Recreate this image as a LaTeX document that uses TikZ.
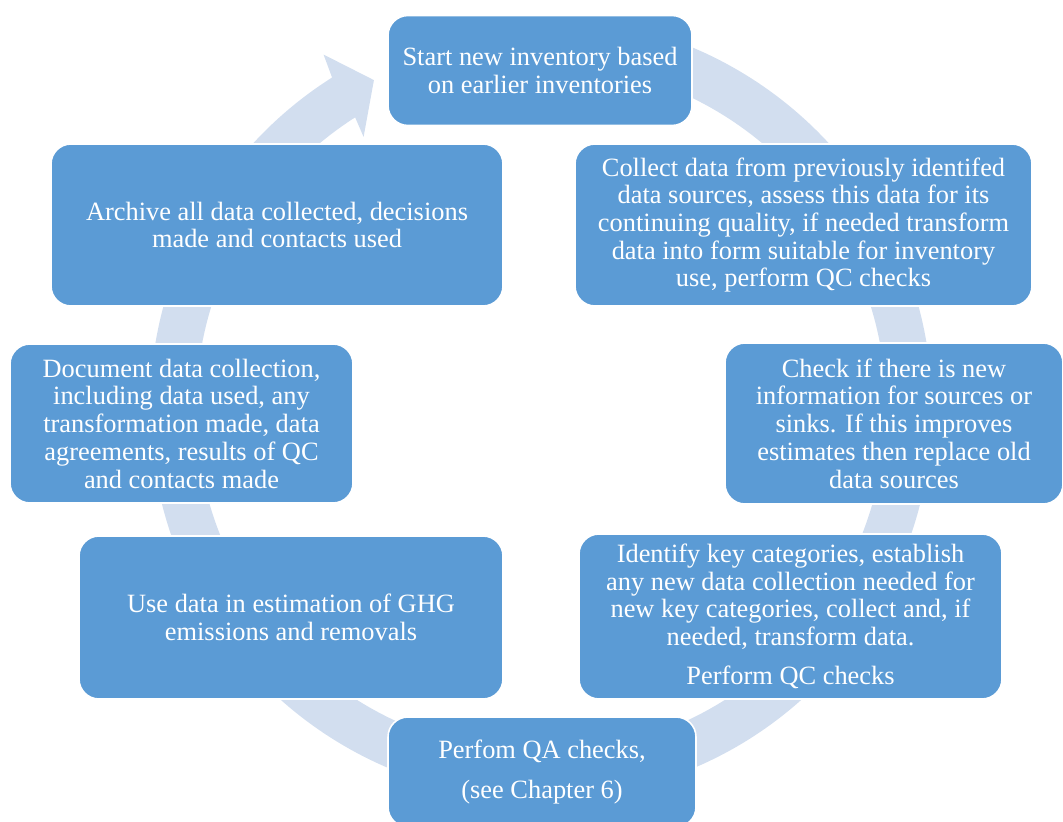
\documentclass[tikz,border=0pt]{standalone}
\usepackage{fontspec}
\setmainfont{Liberation Serif}
\definecolor{boxblue}{RGB}{91,155,213}
\definecolor{ringblue}{RGB}{210,222,239}
\begin{document}
\begin{tikzpicture}[x=0.75pt,y=0.75pt,
  stepbox/.style={rectangle, rounded corners=15pt, fill=boxblue, draw=white,
    line width=1.2pt, text=white, align=center, inner sep=0pt,
    font=\fontsize{19.8}{20.8}\selectfont},
  ringfill/.style={fill=ringblue}
]
\useasboundingbox (0,0) rectangle (1063,-821);
\clip (0,0) rectangle (1063,-821);
% circular arrow ring
\begin{scope}[shift={(541,-408)}]
  \fill[ringfill] (460:391) arc[start angle=460, end angle=122.3, radius=391]
    -- (121.6:415) -- (117:368) -- (123.2:324) -- (122.6:345)
    arc[start angle=122.6, end angle=460, radius=345] -- cycle;
\end{scope}
% steps
\node[stepbox, minimum width=228pt, minimum height=82.5pt] (start) at (540,-70.5)
  {Start new inventory based\\on earlier inventories};
\node[stepbox, minimum width=342.75pt, minimum height=121.5pt] (collect) at (803.5,-225)
  {Collect data from previously identifed\\data sources, assess this data for its\\continuing quality, if needed transform\\data into form suitable for inventory\\use, perform QC checks};
\node[stepbox, minimum width=253.5pt, minimum height=120.75pt] (check) at (894,-423.5)
  {Check if there is new\\information for sources or\\sinks. If this improves\\estimates then replace old\\data sources};
\node[stepbox, minimum width=317.25pt, minimum height=123.75pt] (identify) at (790.5,-616.5)
  {Identify key categories, establish\\any new data collection needed for\\new key categories, collect and, if\\needed, transform data.\\[8.5pt]Perform QC checks};
\node[stepbox, minimum width=231pt, minimum height=82.5pt] (qa) at (542,-772)
  {Perfom QA checks,\\[9pt](see Chapter 6)};
\node[stepbox, minimum width=318pt, minimum height=122.25pt] (use) at (291,-617.5)
  {Use data in estimation of GHG\\emissions and removals};
\node[stepbox, minimum width=257.25pt, minimum height=119.25pt] (document) at (181.5,-423.5)
  {Document data collection,\\including data used, any\\transformation made, data\\agreements, results of QC\\and contacts made};
\node[stepbox, minimum width=339pt, minimum height=121.5pt] (archive) at (277,-225)
  {Archive all data collected, decisions\\made and contacts used};
\end{tikzpicture}
\end{document}
